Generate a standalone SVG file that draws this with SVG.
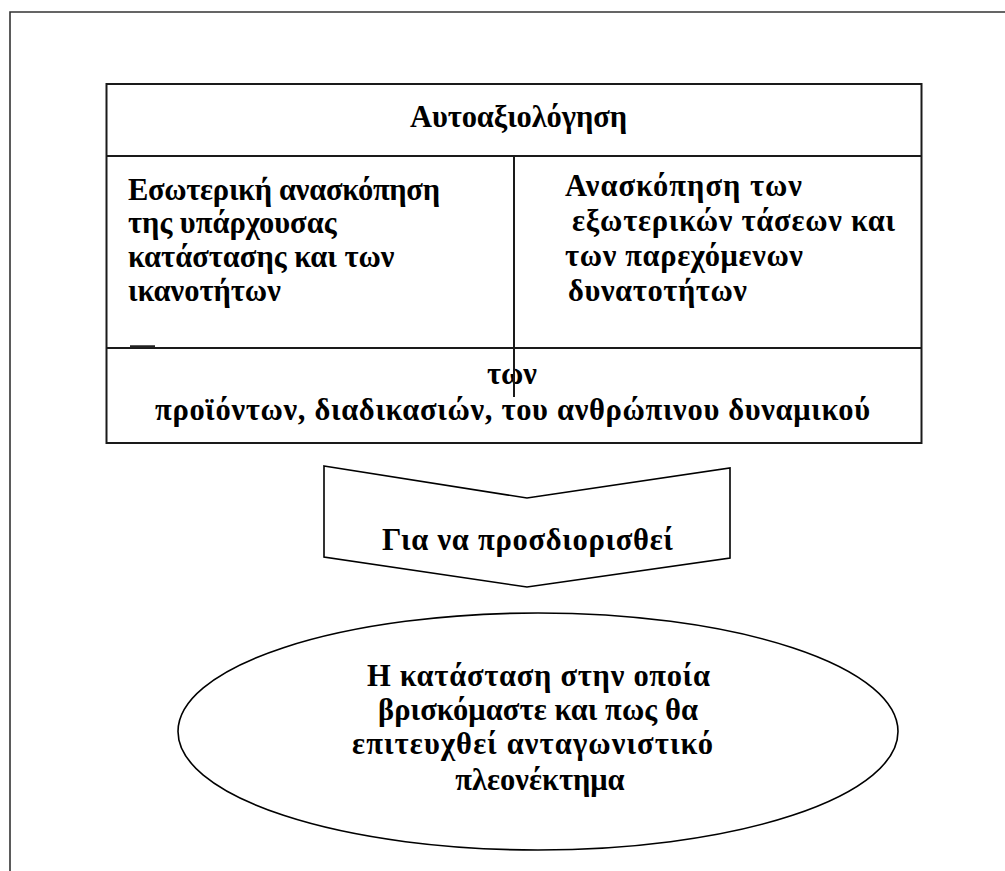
<svg xmlns="http://www.w3.org/2000/svg" width="1005" height="871" viewBox="0 0 1005 871">
  <style>
    .t { font-family: "Liberation Serif", "Times New Roman", serif; font-weight: bold; font-size: 30.5px; fill: #000; }
    .mid { text-anchor: middle; }
    .rule { stroke: #1a1a1a; stroke-width: 2; fill: none; }
    .shape { stroke: #000; stroke-width: 1.6; fill: #fff; }
    .frame { stroke: #333; stroke-width: 1.6; fill: none; }
  </style>
  <defs>
    <clipPath id="chevClip">
      <rect x="324" y="460" width="407" height="98"/>
    </clipPath>
  </defs>
  <rect width="1005" height="871" fill="#fff"/>

  <!-- page frame -->
  <path class="frame" d="M10,871 V12 H1005"/>

  <!-- self-assessment table -->
  <g id="table">
    <rect class="rule" x="106.5" y="84" width="815" height="359"/>
    <line class="rule" x1="106.5" y1="156" x2="921.5" y2="156"/>
    <line class="rule" x1="106.5" y1="348" x2="921.5" y2="348"/>
    <line x1="130" y1="346.5" x2="155" y2="346.5" stroke="#222" stroke-width="2.5"/>
    <text class="t" x="410" y="127" textLength="217" lengthAdjust="spacing">Αυτοαξιολόγηση</text>
    <g id="inner-review">
      <text class="t" x="128" y="200" textLength="312" lengthAdjust="spacing">Εσωτερική ανασκόπηση</text>
      <text class="t" x="128" y="233">της υπάρχουσας</text>
      <text class="t" x="128" y="267">κατάστασης και των</text>
      <text class="t" x="128" y="301">ικανοτήτων</text>
    </g>
    <g id="outer-review">
      <text class="t" x="565" y="196" textLength="237" lengthAdjust="spacing">Ανασκόπηση των</text>
      <text class="t" x="572" y="231" textLength="323" lengthAdjust="spacing">εξωτερικών τάσεων και</text>
      <text class="t" x="565" y="266" textLength="238" lengthAdjust="spacing">των παρεχόμενων</text>
      <text class="t" x="568" y="301" textLength="179" lengthAdjust="spacing">δυνατοτήτων</text>
    </g>
    <g id="scope">
      <text class="t" x="487" y="384" textLength="50" lengthAdjust="spacing">των</text>
      <text class="t" x="155" y="420" textLength="715" lengthAdjust="spacing">προϊόντων, διαδικασιών, του ανθρώπινου δυναμικού</text>
    </g>
    <line class="rule" x1="514" y1="156" x2="514" y2="397"/>
  </g>

  <g id="connectors">
    <g id="chevron">
      <path class="shape" d="M324,466 L527,498 L730,468 L730,558 L527,587 L324,557 Z"/>
      <text class="t" x="382" y="550" textLength="291" lengthAdjust="spacing" clip-path="url(#chevClip)">Για να προσδιορισθεί</text>
    </g>
  </g>

  <!-- outcome -->
  <g id="outcome">
    <ellipse class="shape" cx="538" cy="731.5" rx="360" ry="118.5"/>
    <text class="t" x="367" y="686" textLength="343" lengthAdjust="spacing">Η κατάσταση στην οποία</text>
    <text class="t" x="378" y="720" textLength="320" lengthAdjust="spacing">βρισκόμαστε και πως θα</text>
    <text class="t" x="352" y="754" textLength="361" lengthAdjust="spacing">επιτευχθεί ανταγωνιστικό</text>
    <text class="t mid" x="540" y="790">πλεονέκτημα</text>
  </g>
</svg>
